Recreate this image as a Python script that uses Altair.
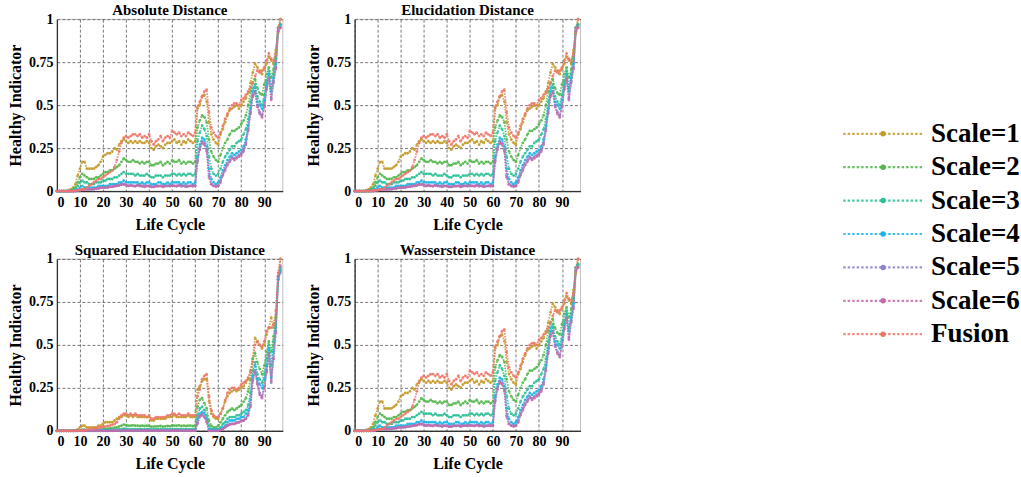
import altair as alt
import pandas as pd

cycles = list(range(98))
series = ["Scale=1", "Scale=2", "Scale=3", "Scale=4", "Scale=5", "Scale=6", "Fusion"]
colors = ["#C49A2A", "#53B74C", "#2BBF97", "#1AB5E8", "#8C84CB", "#C76BA9", "#F0766B"]
panel_titles = ["Absolute Distance", "Elucidation Distance",
                "Squared Elucidation Distance", "Wasserstein Distance"]
x_ticks = [0, 10, 20, 30, 40, 50, 60, 70, 80, 90]
y_ticks = [0, 0.25, 0.5, 0.75, 1]

# ---- Absolute / Elucidation / Wasserstein (visually the same curves) ----
A1 = [0, 0, 0, 0, 0, 0.005, 0.01, 0.02, 0.04, 0.09,
      0.13, 0.17, 0.17, 0.13, 0.13, 0.13, 0.13, 0.14, 0.15, 0.17,
      0.20, 0.21, 0.22, 0.22, 0.23, 0.25, 0.24, 0.27, 0.29, 0.30,
      0.29, 0.28, 0.29, 0.28, 0.29, 0.28, 0.29, 0.28, 0.28, 0.29,
      0.28, 0.25, 0.24, 0.26, 0.27, 0.26, 0.25, 0.27, 0.28, 0.28,
      0.29, 0.30, 0.28, 0.29, 0.27, 0.29, 0.28, 0.30, 0.29, 0.28,
      0.29, 0.48, 0.50, 0.55, 0.56, 0.52, 0.40, 0.33, 0.30, 0.28,
      0.27, 0.33, 0.36, 0.40, 0.44, 0.47, 0.48, 0.49, 0.50, 0.48,
      0.50, 0.52, 0.54, 0.57, 0.63, 0.69, 0.74, 0.72, 0.70, 0.68,
      0.71, 0.74, 0.78, 0.76, 0.74, 0.82, 0.92, 1.00]
A2 = [0, 0, 0, 0, 0, 0, 0.003, 0.01, 0.02, 0.05,
      0.08, 0.10, 0.09, 0.08, 0.07, 0.07, 0.07, 0.08, 0.08, 0.09,
      0.10, 0.11, 0.11, 0.12, 0.12, 0.13, 0.14, 0.15, 0.17, 0.19,
      0.18, 0.17, 0.17, 0.18, 0.17, 0.17, 0.16, 0.17, 0.16, 0.17,
      0.17, 0.15, 0.15, 0.16, 0.16, 0.17, 0.15, 0.16, 0.17, 0.16,
      0.18, 0.17, 0.17, 0.18, 0.16, 0.17, 0.16, 0.17, 0.17, 0.16,
      0.17, 0.37, 0.41, 0.44, 0.43, 0.40, 0.30, 0.23, 0.20, 0.18,
      0.17, 0.21, 0.25, 0.28, 0.30, 0.33, 0.35, 0.35, 0.36, 0.37,
      0.39, 0.41, 0.44, 0.50, 0.58, 0.63, 0.65, 0.60, 0.57, 0.56,
      0.62, 0.68, 0.72, 0.66, 0.71, 0.80, 0.95, 0.97]
A3 = [0, 0, 0, 0, 0, 0, 0, 0.005, 0.01, 0.03,
      0.05, 0.06, 0.05, 0.05, 0.04, 0.04, 0.04, 0.05, 0.05, 0.05,
      0.06, 0.06, 0.07, 0.07, 0.07, 0.08, 0.08, 0.09, 0.10, 0.11,
      0.10, 0.10, 0.10, 0.10, 0.09, 0.10, 0.09, 0.09, 0.09, 0.10,
      0.09, 0.08, 0.08, 0.09, 0.09, 0.09, 0.08, 0.09, 0.09, 0.09,
      0.10, 0.10, 0.09, 0.10, 0.09, 0.10, 0.09, 0.10, 0.10, 0.09,
      0.10, 0.29, 0.34, 0.38, 0.36, 0.32, 0.20, 0.13, 0.10, 0.09,
      0.10, 0.13, 0.17, 0.20, 0.22, 0.24, 0.26, 0.26, 0.28, 0.29,
      0.30, 0.33, 0.36, 0.42, 0.52, 0.60, 0.62, 0.55, 0.52, 0.50,
      0.56, 0.64, 0.70, 0.60, 0.68, 0.77, 0.95, 0.97]
A4 = [0, 0, 0, 0, 0, 0, 0, 0, 0.005, 0.01,
      0.02, 0.03, 0.02, 0.02, 0.02, 0.02, 0.02, 0.02, 0.03, 0.03,
      0.03, 0.03, 0.03, 0.04, 0.04, 0.04, 0.04, 0.05, 0.05, 0.06,
      0.05, 0.05, 0.05, 0.05, 0.05, 0.05, 0.04, 0.05, 0.04, 0.05,
      0.05, 0.04, 0.04, 0.04, 0.05, 0.05, 0.04, 0.04, 0.05, 0.04,
      0.05, 0.05, 0.05, 0.05, 0.04, 0.05, 0.04, 0.05, 0.05, 0.04,
      0.05, 0.20, 0.27, 0.31, 0.30, 0.26, 0.13, 0.07, 0.05, 0.04,
      0.05, 0.08, 0.12, 0.15, 0.18, 0.20, 0.22, 0.21, 0.22, 0.23,
      0.24, 0.26, 0.30, 0.38, 0.48, 0.58, 0.60, 0.52, 0.50, 0.48,
      0.53, 0.62, 0.68, 0.58, 0.66, 0.74, 0.95, 0.96]
A5 = [0, 0, 0, 0, 0, 0, 0, 0, 0, 0.003,
      0.005, 0.01, 0.01, 0.01, 0.01, 0.01, 0.01, 0.015, 0.015, 0.02,
      0.02, 0.02, 0.02, 0.025, 0.025, 0.03, 0.03, 0.035, 0.04, 0.04,
      0.035, 0.03, 0.035, 0.03, 0.03, 0.035, 0.03, 0.03, 0.025, 0.03,
      0.03, 0.025, 0.025, 0.03, 0.03, 0.03, 0.025, 0.03, 0.03, 0.03,
      0.035, 0.03, 0.03, 0.035, 0.03, 0.03, 0.025, 0.03, 0.03, 0.03,
      0.03, 0.18, 0.25, 0.29, 0.28, 0.24, 0.09, 0.04, 0.03, 0.03,
      0.03, 0.06, 0.10, 0.13, 0.16, 0.18, 0.20, 0.19, 0.20, 0.21,
      0.22, 0.24, 0.28, 0.36, 0.46, 0.56, 0.58, 0.50, 0.46, 0.44,
      0.50, 0.60, 0.66, 0.54, 0.64, 0.72, 0.93, 0.95]
A6 = [0, 0, 0, 0, 0, 0, 0, 0, 0, 0.003,
      0.005, 0.008, 0.01, 0.01, 0.01, 0.01, 0.012, 0.014, 0.016, 0.018,
      0.02, 0.02, 0.022, 0.024, 0.026, 0.028, 0.03, 0.032, 0.036, 0.038,
      0.034, 0.03, 0.032, 0.03, 0.028, 0.032, 0.03, 0.028, 0.026, 0.03,
      0.028, 0.024, 0.024, 0.028, 0.028, 0.03, 0.025, 0.028, 0.03, 0.028,
      0.032, 0.03, 0.028, 0.032, 0.028, 0.03, 0.026, 0.028, 0.03, 0.028,
      0.03, 0.17, 0.24, 0.28, 0.27, 0.23, 0.08, 0.04, 0.03, 0.025,
      0.03, 0.05, 0.09, 0.12, 0.15, 0.17, 0.19, 0.18, 0.19, 0.20,
      0.21, 0.23, 0.27, 0.35, 0.45, 0.55, 0.57, 0.49, 0.45, 0.43,
      0.49, 0.59, 0.65, 0.53, 0.63, 0.71, 0.93, 0.95]
AF = [0, 0, 0, 0, 0, 0, 0, 0, 0.003, 0.005,
      0.006, 0.008, 0.01, 0.02, 0.03, 0.04, 0.05, 0.06, 0.07, 0.07,
      0.08, 0.09, 0.10, 0.11, 0.12, 0.14, 0.18, 0.23, 0.28, 0.31,
      0.32, 0.31, 0.32, 0.33, 0.33, 0.32, 0.33, 0.31, 0.32, 0.31,
      0.33, 0.29, 0.27, 0.29, 0.30, 0.32, 0.29, 0.31, 0.32, 0.31,
      0.35, 0.34, 0.33, 0.34, 0.32, 0.33, 0.32, 0.34, 0.33, 0.32,
      0.34, 0.49, 0.52, 0.55, 0.58, 0.59, 0.46, 0.37, 0.34, 0.32,
      0.31, 0.34, 0.38, 0.42, 0.45, 0.48, 0.50, 0.51, 0.51, 0.50,
      0.53, 0.54, 0.56, 0.58, 0.60, 0.63, 0.67, 0.70, 0.69, 0.70,
      0.72, 0.76, 0.80, 0.77, 0.76, 0.80, 0.95, 1.00]

# ---- Squared Elucidation Distance ----
S1 = [0, 0, 0, 0, 0, 0, 0, 0, 0.003, 0.008,
      0.02, 0.03, 0.03, 0.02, 0.02, 0.02, 0.02, 0.02, 0.03, 0.03,
      0.04, 0.05, 0.05, 0.05, 0.05, 0.06, 0.07, 0.08, 0.08, 0.09,
      0.09, 0.08, 0.09, 0.08, 0.09, 0.08, 0.08, 0.08, 0.08, 0.08,
      0.08, 0.06, 0.06, 0.07, 0.07, 0.07, 0.07, 0.07, 0.08, 0.08,
      0.08, 0.09, 0.08, 0.08, 0.08, 0.08, 0.08, 0.09, 0.08, 0.08,
      0.08, 0.24, 0.26, 0.29, 0.30, 0.30, 0.17, 0.10, 0.08, 0.07,
      0.07, 0.10, 0.13, 0.17, 0.20, 0.22, 0.23, 0.24, 0.23, 0.24,
      0.25, 0.26, 0.28, 0.30, 0.35, 0.42, 0.54, 0.52, 0.50, 0.48,
      0.50, 0.56, 0.60, 0.66, 0.60, 0.66, 0.88, 1.00]
S2 = [0, 0, 0, 0, 0, 0, 0, 0, 0, 0.002,
      0.004, 0.006, 0.006, 0.005, 0.005, 0.005, 0.005, 0.006, 0.007, 0.008,
      0.01, 0.012, 0.013, 0.014, 0.015, 0.018, 0.02, 0.025, 0.03, 0.036,
      0.033, 0.03, 0.03, 0.032, 0.03, 0.03, 0.028, 0.03, 0.028, 0.03,
      0.03, 0.024, 0.024, 0.026, 0.026, 0.028, 0.024, 0.026, 0.028, 0.026,
      0.032, 0.03, 0.03, 0.032, 0.028, 0.03, 0.028, 0.03, 0.03, 0.028,
      0.03, 0.14, 0.18, 0.19, 0.16, 0.13, 0.06, 0.03, 0.02, 0.02,
      0.03, 0.05, 0.07, 0.09, 0.11, 0.12, 0.13, 0.12, 0.13, 0.14,
      0.15, 0.17, 0.19, 0.23, 0.30, 0.42, 0.45, 0.40, 0.36, 0.33,
      0.38, 0.46, 0.52, 0.46, 0.55, 0.66, 0.90, 0.95]
S3 = [0, 0, 0, 0, 0, 0, 0, 0, 0, 0.001,
      0.002, 0.003, 0.003, 0.002, 0.002, 0.002, 0.002, 0.003, 0.003, 0.003,
      0.004, 0.004, 0.005, 0.005, 0.005, 0.006, 0.007, 0.008, 0.01, 0.012,
      0.011, 0.01, 0.01, 0.01, 0.009, 0.01, 0.009, 0.009, 0.009, 0.01,
      0.009, 0.008, 0.008, 0.009, 0.009, 0.009, 0.008, 0.009, 0.009, 0.009,
      0.01, 0.01, 0.009, 0.01, 0.009, 0.01, 0.009, 0.01, 0.01, 0.009,
      0.01, 0.09, 0.13, 0.14, 0.12, 0.09, 0.03, 0.01, 0.01, 0.01,
      0.01, 0.02, 0.04, 0.05, 0.07, 0.08, 0.08, 0.08, 0.09, 0.09,
      0.10, 0.11, 0.12, 0.15, 0.22, 0.35, 0.40, 0.33, 0.30, 0.28,
      0.33, 0.42, 0.50, 0.38, 0.52, 0.62, 0.88, 0.93]
S4 = [0, 0, 0, 0, 0, 0, 0, 0, 0, 0,
      0.001, 0.001, 0.001, 0.001, 0.001, 0.001, 0.001, 0.001, 0.001, 0.001,
      0.001, 0.001, 0.002, 0.002, 0.002, 0.002, 0.002, 0.003, 0.003, 0.004,
      0.003, 0.003, 0.003, 0.003, 0.003, 0.003, 0.003, 0.003, 0.003, 0.003,
      0.003, 0.003, 0.003, 0.003, 0.003, 0.003, 0.003, 0.003, 0.003, 0.003,
      0.003, 0.003, 0.003, 0.003, 0.003, 0.003, 0.003, 0.003, 0.003, 0.003,
      0.003, 0.07, 0.10, 0.11, 0.10, 0.07, 0.01, 0.005, 0.005, 0.005,
      0.005, 0.01, 0.02, 0.03, 0.05, 0.06, 0.06, 0.06, 0.07, 0.07,
      0.08, 0.08, 0.10, 0.12, 0.18, 0.32, 0.38, 0.30, 0.27, 0.25,
      0.30, 0.38, 0.48, 0.31, 0.46, 0.60, 0.88, 0.94]
S5 = [0, 0, 0, 0, 0, 0, 0, 0, 0, 0,
      0, 0, 0, 0, 0, 0, 0, 0, 0, 0,
      0, 0, 0, 0, 0, 0.001, 0.001, 0.001, 0.001, 0.001,
      0.001, 0.001, 0.001, 0.001, 0.001, 0.001, 0.001, 0.001, 0.001, 0.001,
      0.001, 0.001, 0.001, 0.001, 0.001, 0.001, 0.001, 0.001, 0.001, 0.001,
      0.001, 0.001, 0.001, 0.001, 0.001, 0.001, 0.001, 0.001, 0.001, 0.001,
      0.001, 0.05, 0.09, 0.10, 0.08, 0.06, 0, 0, 0, 0,
      0, 0.005, 0.01, 0.02, 0.03, 0.04, 0.04, 0.04, 0.05, 0.05,
      0.06, 0.06, 0.07, 0.10, 0.15, 0.30, 0.35, 0.28, 0.22, 0.20,
      0.26, 0.35, 0.45, 0.28, 0.42, 0.58, 0.88, 0.92]
S6 = [0, 0, 0, 0, 0, 0, 0, 0, 0, 0,
      0, 0, 0, 0, 0, 0, 0, 0, 0, 0,
      0, 0, 0, 0, 0, 0.001, 0.001, 0.001, 0.001, 0.001,
      0.001, 0.001, 0.001, 0.001, 0.001, 0.001, 0.001, 0.001, 0.001, 0.001,
      0.001, 0.001, 0.001, 0.001, 0.001, 0.001, 0.001, 0.001, 0.001, 0.001,
      0.001, 0.001, 0.001, 0.001, 0.001, 0.001, 0.001, 0.001, 0.001, 0.001,
      0.001, 0.04, 0.08, 0.09, 0.08, 0.05, 0, 0, 0, 0,
      0, 0.004, 0.01, 0.02, 0.03, 0.035, 0.04, 0.04, 0.045, 0.05,
      0.055, 0.06, 0.07, 0.09, 0.14, 0.29, 0.34, 0.27, 0.21, 0.19,
      0.25, 0.34, 0.44, 0.29, 0.42, 0.57, 0.90, 0.96]
SF = [0, 0, 0, 0, 0, 0, 0, 0, 0.001, 0.002,
      0.002, 0.003, 0.004, 0.005, 0.008, 0.01, 0.012, 0.015, 0.018, 0.02,
      0.022, 0.025, 0.028, 0.03, 0.035, 0.04, 0.05, 0.07, 0.09, 0.10,
      0.10, 0.09, 0.10, 0.09, 0.10, 0.09, 0.09, 0.09, 0.09, 0.08,
      0.09, 0.07, 0.07, 0.08, 0.08, 0.08, 0.08, 0.08, 0.09, 0.09,
      0.10, 0.10, 0.09, 0.10, 0.09, 0.09, 0.09, 0.10, 0.09, 0.09,
      0.09, 0.20, 0.24, 0.30, 0.32, 0.33, 0.20, 0.12, 0.09, 0.08,
      0.08, 0.10, 0.13, 0.18, 0.22, 0.24, 0.25, 0.25, 0.24, 0.25,
      0.27, 0.28, 0.29, 0.31, 0.34, 0.40, 0.50, 0.52, 0.50, 0.49,
      0.52, 0.58, 0.60, 0.60, 0.62, 0.70, 0.92, 1.00]

ABS_SET = [A1, A2, A3, A4, A5, A6, AF]
SQ_SET = [S1, S2, S3, S4, S5, S6, SF]
panel_sets = [ABS_SET, ABS_SET, SQ_SET, ABS_SET]

FONT = "Liberation Serif"


def make_df(vals_set):
    rows = []
    for name, vals in zip(series, vals_set):
        for c, v in zip(cycles, vals):
            rows.append({"cycle": c, "hi": v, "series": name})
    return pd.DataFrame(rows)


def panel(title, vals_set):
    df = make_df(vals_set)
    base = alt.Chart(df)
    enc = dict(
        x=alt.X("cycle:Q", scale=alt.Scale(domain=[0, 98], nice=False, zero=False),
                axis=alt.Axis(values=x_ticks, title="Life Cycle", format="d")),
        y=alt.Y("hi:Q", scale=alt.Scale(domain=[0, 1], nice=False),
                axis=alt.Axis(values=y_ticks, title="Healthy Indicator",
                              labelExpr="datum.value + ''")),
        color=alt.Color("series:N", scale=alt.Scale(domain=series, range=colors), legend=None),
    )
    line = base.mark_line(strokeDash=[1.6, 1.2], strokeWidth=1.8, opacity=0.85).encode(**enc)
    pts = base.mark_circle(size=8, opacity=0.85).encode(**enc)
    return alt.layer(line, pts).properties(
        width=226, height=172,
        title=alt.TitleParams(title, font=FONT, fontSize=15, fontWeight="bold", offset=-6, color="black"),
    )


panels = [panel(t, s) for t, s in zip(panel_titles, panel_sets)]
grid = alt.vconcat(
    alt.hconcat(panels[0], panels[1], spacing=20),
    alt.hconcat(panels[2], panels[3], spacing=20),
    spacing=9,
)

leg_df = pd.DataFrame({"series": series})
leg_y = alt.Y("series:N", scale=alt.Scale(domain=series, range=[98, 332]), axis=None)
leg_color = alt.Color("series:N", scale=alt.Scale(domain=series, range=colors), legend=None)
leg_base = alt.Chart(leg_df)
leg_rule = leg_base.mark_rule(strokeDash=[2.5, 2], strokeWidth=2.2, opacity=0.85).encode(
    x=alt.value(0), x2=alt.value(80), y=leg_y, color=leg_color)
leg_pt = leg_base.mark_circle(size=30, opacity=1).encode(x=alt.value(40), y=leg_y, color=leg_color)
leg_txt = leg_base.mark_text(align="left", baseline="middle", font=FONT, fontSize=27,
                             fontWeight="bold", color="black").encode(
    x=alt.value(88), y=leg_y, text="series:N")
legend_chart = alt.layer(leg_rule, leg_pt, leg_txt).properties(
    width=175, height=400, view=alt.ViewBackground(stroke="transparent"))

chart = alt.hconcat(grid, legend_chart, spacing=259).properties(
    padding={"left": 7, "top": 2, "right": 0, "bottom": 0}
).configure_view(stroke="#999999", strokeWidth=0.6).configure_axis(
    labelFont=FONT, labelFontSize=14, labelFontWeight="bold", labelColor="black",
    titleFont=FONT, titleFontSize=16, titleFontWeight="bold", titleColor="black",
    ticks=False, labelPadding=4, titlePadding=4,
    domainColor="#333333", domainWidth=1.2,
    gridColor="#444444", gridDash=[3, 2], gridWidth=0.8, gridOpacity=0.9,
).configure_axisX(titlePadding=7).configure_axisY(titlePadding=5)

chart.save("out.html", embed_options={"renderer": "svg", "actions": False})
